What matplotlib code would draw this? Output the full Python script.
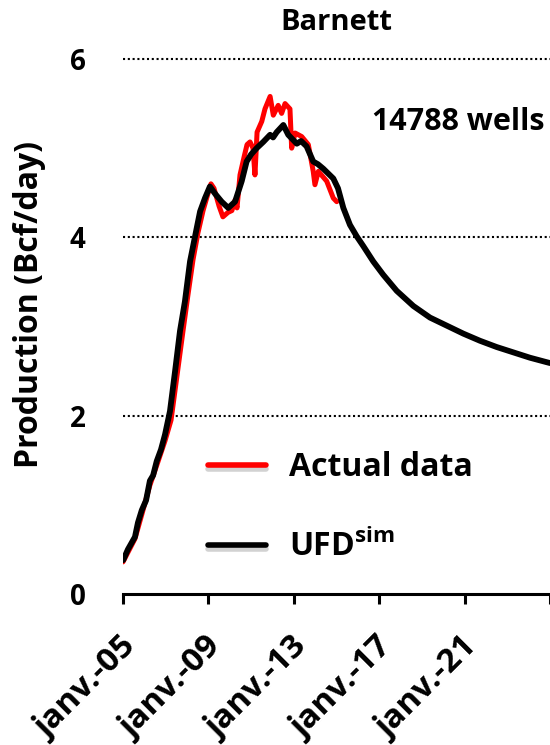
import matplotlib
matplotlib.use("Agg")
import matplotlib.pyplot as plt
import matplotlib.patheffects as pe
import matplotlib.transforms as mtransforms

plt.rcParams['font.family'] = ['Open Sans', 'DejaVu Sans']
plt.rcParams['font.weight'] = 'bold'
plt.rcParams['mathtext.fontset'] = 'custom'
plt.rcParams['mathtext.rm'] = 'Open Sans:bold'
plt.rcParams['mathtext.bf'] = 'Open Sans:bold'

title = "Barnett"
wells_note = "14788 wells"
y_label = "Production (Bcf/day)"
series_names = ["Actual data", "UFD$^{\\mathrm{sim}}$"]

x_ticks = [2005, 2009, 2013, 2017, 2021, 2025]
x_tick_labels = ["janv.-05", "janv.-09", "janv.-13", "janv.-17", "janv.-21", ""]
y_ticks = [0, 2, 4, 6]

# UFD simulation (black)
sim_year = [2005.01, 2005.23, 2005.56, 2005.70, 2005.88, 2006.08, 2006.26, 2006.41,
            2006.58, 2006.78, 2006.97, 2007.20, 2007.44, 2007.67, 2007.90, 2008.14,
            2008.45, 2008.61, 2008.84, 2009.07, 2009.31, 2009.62, 2009.93, 2010.25,
            2010.56, 2010.79, 2011.00, 2011.26, 2011.57, 2011.89, 2012.03, 2012.20,
            2012.51, 2012.74, 2013.14, 2013.34, 2013.60, 2013.91, 2014.13, 2014.38,
            2014.85, 2015.07, 2015.32, 2015.63, 2015.95, 2016.26, 2016.72, 2017.19,
            2017.82, 2018.60, 2019.38, 2020.16, 2020.94, 2021.72, 2022.50, 2023.28,
            2024.06, 2024.84, 2025.00]
sim_prod = [0.38, 0.50, 0.64, 0.80, 0.94, 1.05, 1.27, 1.33,
            1.49, 1.62, 1.79, 2.05, 2.50, 2.95, 3.28, 3.73,
            4.10, 4.29, 4.44, 4.57, 4.49, 4.40, 4.33, 4.40,
            4.63, 4.85, 4.93, 5.00, 5.07, 5.15, 5.12, 5.18,
            5.26, 5.15, 5.05, 5.08, 5.02, 4.85, 4.82, 4.77,
            4.66, 4.55, 4.33, 4.14, 4.01, 3.90, 3.73, 3.58,
            3.40, 3.23, 3.10, 3.01, 2.92, 2.84, 2.77, 2.71,
            2.65, 2.60, 2.59]

# Actual data (red)
act_year = [2005.00, 2005.56, 2005.89, 2006.26, 2006.59, 2006.97, 2007.25, 2007.53,
            2007.81, 2008.04, 2008.28, 2008.51, 2008.75, 2008.93, 2009.12, 2009.26,
            2009.50, 2009.68, 2009.92, 2010.10, 2010.25, 2010.34, 2010.48, 2010.67,
            2010.81, 2010.95, 2011.09, 2011.18, 2011.28, 2011.50, 2011.65, 2011.89,
            2012.04, 2012.27, 2012.43, 2012.59, 2012.82, 2012.90, 2013.06, 2013.37,
            2013.68, 2013.91, 2013.99, 2014.15, 2014.54, 2014.85, 2015.01]
act_prod = [0.36, 0.62, 0.90, 1.22, 1.45, 1.72, 1.95, 2.45,
            2.95, 3.35, 3.75, 4.05, 4.30, 4.45, 4.60, 4.55,
            4.35, 4.23, 4.28, 4.30, 4.42, 4.33, 4.70, 4.90,
            5.04, 5.07, 5.00, 4.70, 5.18, 5.30, 5.44, 5.58,
            5.37, 5.48, 5.39, 5.50, 5.44, 5.00, 5.17, 5.13,
            5.04, 4.74, 4.59, 4.74, 4.63, 4.44, 4.40]

W, H = 550, 745
fig = plt.figure(figsize=(W / 100, H / 100), dpi=100)
ax = fig.add_axes([123 / W, 1 - 594 / H, (550 - 123) / W, (594 - 59) / H])

shadow = [pe.SimpleLineShadow(offset=(0, -3), shadow_color='gray', alpha=0.35), pe.Normal()]

l1, = ax.plot(act_year, act_prod, color='#ff0000', lw=3.6, solid_joinstyle='round',
              solid_capstyle='round', label=series_names[0])
l2, = ax.plot(sim_year, sim_prod, color='black', lw=4.2, solid_joinstyle='round',
              solid_capstyle='round', label=series_names[1])

ax.set_xlim(2005, 2025)
ax.set_ylim(0, 6)
ax.set_yticks(y_ticks)
ax.set_yticklabels([str(v) for v in y_ticks], fontsize=20, fontweight='bold')
ax.tick_params(axis='y', length=0, pad=27)
ax.set_xticks(x_ticks)
ax.set_xticklabels(x_tick_labels, rotation=45, ha='right', va='center',
                   rotation_mode='anchor', fontsize=24, fontweight='bold')
ax.tick_params(axis='x', length=7, width=2.2, pad=18, direction='out', color='black')
offset = mtransforms.ScaledTranslation(8 / 100, -14 / 100, fig.dpi_scale_trans)
for lab in ax.get_xticklabels():
    lab.set_transform(lab.get_transform() + offset)

for s in ['left', 'right', 'top']:
    ax.spines[s].set_visible(False)
ax.spines['bottom'].set_linewidth(2.2)
ax.spines['bottom'].set_capstyle('projecting')

for v in y_ticks[1:]:
    ax.axhline(v, color='black', lw=1.5, ls=(0, (1, 1.3)), zorder=0, clip_on=False)

ax.set_ylabel(y_label, fontsize=23, fontweight='bold')
ax.yaxis.set_label_coords(-77 / 427, (594 - 305) / 535)
ax.set_title(title, fontsize=21, fontweight='bold', pad=21)

ax.text(545 / W, 1 - 122 / H, wells_note, transform=fig.transFigure, ha='right',
        va='center', fontsize=22, fontweight='bold')

leg = ax.legend(handles=[l1, l2], loc='upper left', frameon=False,
                bbox_to_anchor=(208 / W, 1 - 451 / H), bbox_transform=fig.transFigure,
                borderaxespad=0, borderpad=0, handlelength=1.8, handletextpad=0.75,
                labelspacing=1.45, prop={'size': 23, 'weight': 'bold'})
for line in leg.get_lines():
    line.set_linewidth(4)
    line.set_path_effects(shadow)

fig.savefig("out.png", dpi=100)
